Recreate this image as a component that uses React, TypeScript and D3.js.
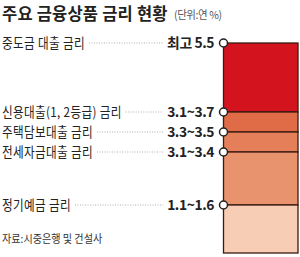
import React, { useEffect, useRef } from 'react'
import * as d3 from 'd3'

// 상품별 금리 (단위: 연 %)
const products = ['중도금 대출 금리', '신용대출(1, 2등급) 금리', '주택담보대출 금리', '전세자금대출 금리', '정기예금 금리']
const rateLabels = ['최고 5.5', '3.1~3.7', '3.3~3.5', '3.1~3.4', '1.1~1.6']
const topRates = [5.5, 3.7, 3.5, 3.4, 1.6]
const segColors = ['#d3141f', '#e06b47', '#e47f59', '#e8936d', '#f8cdb6']

const W = 300
const H = 257
const FONT = '"Noto Sans CJK KR", "Noto Sans", sans-serif'
// the print font is a narrow gothic; squeeze the glyphs horizontally
const SQ = 0.86

// schematic (not proportional) scale, as in the print graphic
const y = d3.scaleLinear()
  .domain([5.5, 3.7, 3.5, 3.4, 1.6, 0])
  .range([43, 112, 132, 152, 205, 253])

const App = () => {
  const ref = useRef<SVGGElement>(null)
  const barX = 223.5
  const barR = 298
  const valueX = 214
  const labelX = 2

  useEffect(() => {
    const g = d3.select(ref.current)
    g.selectAll('*').remove()

    // bar segments
    const bounds = [...topRates, 0]
    g.selectAll('rect.seg')
      .data(topRates)
      .enter()
      .append('rect')
      .attr('class', 'seg')
      .attr('x', barX)
      .attr('width', barR - barX)
      .attr('y', d => y(d))
      .attr('height', (d, i) => y(bounds[i + 1]) - y(d))
      .attr('fill', (d, i) => segColors[i])
      .attr('stroke', '#3b1a12')
      .attr('stroke-width', 1.3)

    const rows = g.selectAll('g.row')
      .data(topRates)
      .enter()
      .append('g')
      .attr('class', 'row')

    const labels = rows.append('text')
      .attr('transform', d => `translate(${labelX},${y(d)}) scale(${SQ},1)`)
      .attr('dy', '0.38em')
      .attr('font-family', FONT)
      .attr('font-size', 13.5)
      .attr('letter-spacing', 0.4)
      .attr('fill', '#222')
      .text((d, i) => products[i])

    const values = rows.append('text')
      .attr('x', valueX)
      .attr('y', d => y(d))
      .attr('dy', '0.36em')
      .attr('text-anchor', 'end')
      .attr('font-family', FONT)
      .attr('font-size', 13.8)
      .attr('font-weight', 700)
      .attr('letter-spacing', -0.4)
      .attr('fill', '#222')
      .text((d, i) => rateLabels[i])

    const labelEnds = labels.nodes().map(n => labelX + SQ * (n as SVGTextElement).getComputedTextLength())
    const valueStarts = values.nodes().map(n => valueX - (n as SVGTextElement).getComputedTextLength())

    rows.insert('line', 'text')
      .attr('x1', (d, i) => labelEnds[i] + 4)
      .attr('x2', (d, i) => valueStarts[i] - 4)
      .attr('y1', d => y(d))
      .attr('y2', d => y(d))
      .attr('stroke', '#9a9a9a')
      .attr('stroke-width', 0.8)
      .attr('stroke-dasharray', '1,1.5')

    rows.append('circle')
      .attr('cx', barX)
      .attr('cy', d => y(d))
      .attr('r', 4)
      .attr('fill', '#fff')
      .attr('stroke', '#222')
      .attr('stroke-width', 1.5)
  }, [])

  return (
    <svg width={W} height={H} style={{ position: 'absolute', left: 0, top: 0 }}>
      <rect width={W} height={H} fill="#fff" />
      <text x={2} y={19.5} fontFamily={FONT} fontSize={16.5} fontWeight={700} letterSpacing={0.2} fill="#222">
        주요 금융상품 금리 현황
      </text>
      <text transform="translate(174,18.5) scale(0.95,1)" fontFamily={FONT} fontSize={11} letterSpacing={-0.4} fill="#555">
        (단위:연 %)
      </text>
      <g ref={ref} />
      <text transform="translate(2,243) scale(0.92,1)" fontFamily={FONT} fontSize={11} fill="#333">
        자료:시중은행 및 건설사
      </text>
    </svg>
  )
}

export default App
